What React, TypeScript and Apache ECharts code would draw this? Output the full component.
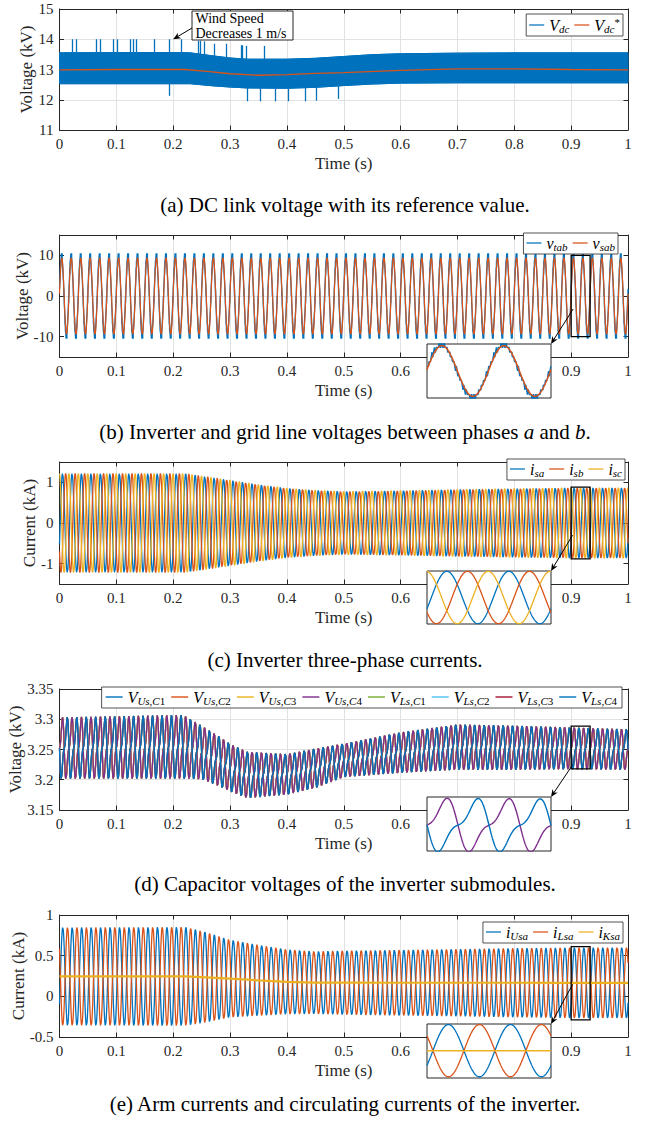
import React, { useEffect, useRef } from 'react';
import * as echarts from 'echarts';

const FONT = '"Liberation Serif", "Times New Roman", Times, serif';
const INK = '#262626';
const GRID_LINE = '#e2e2e2';
const BLUE = '#0072BD';
const ORANGE = '#D95319';
const YELLOW = '#EDB120';
const PURPLE = '#7E2F8E';
const GREEN = '#77AC30';
const CYAN = '#4DBEEE';
const DARKRED = '#A2142F';

// ================= DATA =================
const gridFrequencyHz = 60; // 6 cycles per 0.1 s in every panel

// (a) DC-link voltage: ripple band edges, reference, spikes
const vdcKnotsT = [0, 0.1, 0.2, 0.23, 0.27, 0.3, 0.33, 0.4, 0.45, 0.5, 0.55, 0.6, 0.7, 0.8, 0.9, 1.0];
const vdcUpper = [13.55, 13.56, 13.56, 13.55, 13.45, 13.38, 13.34, 13.34, 13.37, 13.43, 13.49, 13.52, 13.54, 13.55, 13.55, 13.55];
const vdcLower = [12.53, 12.53, 12.53, 12.53, 12.46, 12.42, 12.39, 12.38, 12.41, 12.47, 12.52, 12.55, 12.56, 12.56, 12.56, 12.56];
const vrefKnotsT = [0, 0.1, 0.2, 0.22, 0.26, 0.3, 0.35, 0.4, 0.45, 0.5, 0.6, 0.7, 0.8, 0.9, 1.0];
const vdcRef = [12.99, 13.0, 13.0, 13.0, 12.94, 12.86, 12.81, 12.83, 12.87, 12.9, 12.97, 13.02, 13.02, 13.0, 12.99];
const spikeUpT = [0.023, 0.029, 0.065, 0.071, 0.094, 0.102, 0.124, 0.129, 0.135, 0.167, 0.193, 0.215, 0.244, 0.247, 0.254, 0.272, 0.293, 0.319, 0.322, 0.328, 0.36];
const spikeUpTop = [14, 14, 14, 14, 14, 14, 14, 14, 14, 14, 14, 14, 13.95, 13.95, 13.93, 13.85, 13.85, 13.8, 13.8, 13.78, 13.78];
const spikeDownT = [0.193, 0.331, 0.354, 0.379, 0.403, 0.432, 0.451, 0.49];
const spikeDownBottom = [12.13, 11.95, 11.95, 11.95, 11.95, 11.95, 11.97, 12.03];

// (b) line voltages
const vsabAmplitude = 9.4; // kV
const vsabPhase = 0.06; // rad
const vtabAmplitude = 9.7; // kV
const vtabPhase = 0.08;
const vtabLevelStep = 1.75; // kV between converter levels
const carrierHz = 1500;

// (c) three-phase currents
const isKnotsT = [0, 0.22, 0.25, 0.3, 0.35, 0.4, 0.45, 0.5, 0.6, 0.7, 0.8, 0.9, 1.0];
const isAmplitude = [1.22, 1.22, 1.16, 1.06, 0.95, 0.86, 0.81, 0.78, 0.8, 0.83, 0.85, 0.87, 0.87];
const isPhase = -0.44;

// (d) capacitor voltages
const capKnotsT = [0, 0.22, 0.25, 0.28, 0.3, 0.33, 0.4, 0.45, 0.5, 0.6, 0.7, 0.8, 0.9, 1.0];
const capMean = [3.252, 3.254, 3.245, 3.231, 3.22, 3.208, 3.209, 3.219, 3.232, 3.245, 3.254, 3.253, 3.252, 3.25];
const capHalfRange = [0.051, 0.053, 0.045, 0.042, 0.04, 0.039, 0.034, 0.033, 0.028, 0.034, 0.038, 0.037, 0.035, 0.034];
const capHarmonic = 0.4;
const capPhase = 0.0;

// (e) arm and circulating currents
const armKnotsT = [0, 0.22, 0.25, 0.3, 0.35, 0.4, 0.45, 0.5, 0.6, 0.7, 0.8, 0.9, 1.0];
const armCenter = [0.245, 0.245, 0.236, 0.218, 0.197, 0.178, 0.168, 0.168, 0.167, 0.167, 0.167, 0.166, 0.166];
const armAmplitude = [0.605, 0.61, 0.57, 0.48, 0.437, 0.4, 0.386, 0.395, 0.405, 0.415, 0.427, 0.435, 0.435];
const armPhase = -0.6;

// zoom window and inset y ranges (b, c, d, e)
const zoomWindow = [0.9, 0.9 + 2 / 60];
const insetRanges = [[-10, 10], [-0.88, 0.88], [3.218, 3.2885], [-0.29, 0.61]];
const arrowFrom = [[0.9035, -3.2], [0.9025, -0.3], [0.9025, 3.2246], [0.9025, 0.146]];

// ================= LAYOUT =================
const PLOT_LEFT = 59.5;
const PLOT_RIGHT = 21;
const panels = [
  { top: 9, height: 121, min: 11, max: 15, step: 1, every: 1, name: 'Voltage (kV)', nameX: 26.5, ticks: null as null | number[] },
  { top: 235, height: 122, min: -15, max: 15, step: 5, every: 10, name: 'Voltage (kV)', nameX: 22.5, ticks: [-10, 0, 10] },
  { top: 462, height: 122, min: -1.5, max: 1.5, step: 0.5, every: 1, name: 'Current (kA)', nameX: 29.5, ticks: [-1, 0, 1] },
  { top: 689, height: 121, min: 3.15, max: 3.35, step: 0.05, every: 0.05, name: 'Voltage (kV)', nameX: 15.7, ticks: null },
  { top: 915, height: 122, min: -0.5, max: 1, step: 0.5, every: 0.5, name: 'Current (kA)', nameX: 18, ticks: null },
];
const insets = [
  { left: 427, top: 344, width: 124, height: 54 },
  { left: 427, top: 571, width: 124, height: 53 },
  { left: 427, top: 797, width: 124, height: 54 },
  { left: 427, top: 1024, width: 124, height: 54 },
];
const legendPos = [
  { right: 26, top: 14 },
  { right: 31, top: 233 },
  { right: 24, top: 459 },
  { right: 27, top: 687 },
  { right: 26, top: 922 },
];

// ================= SIGNALS =================
function interp(xs: number[], ys: number[], x: number): number {
  if (x <= xs[0]) return ys[0];
  for (let i = 1; i < xs.length; i++) {
    if (x <= xs[i]) {
      const f = (x - xs[i - 1]) / (xs[i] - xs[i - 1]);
      return ys[i - 1] + f * (ys[i] - ys[i - 1]);
    }
  }
  return ys[ys.length - 1];
}
const phaseAt = (t: number) => 2 * Math.PI * gridFrequencyHz * t;
const sampleTimes = (t0: number, t1: number, n: number) =>
  Array.from({ length: n + 1 }, (_, k) => t0 + ((t1 - t0) * k) / n);

const vsab = (t: number) => vsabAmplitude * Math.sin(phaseAt(t) + vsabPhase);
const carrier = (t: number) => {
  const p = (t * carrierHz) % 1;
  return p < 0.5 ? 2 * p : 2 - 2 * p;
};
const vtab = (t: number) => {
  const r = (vtabAmplitude * Math.sin(phaseAt(t) + vtabPhase)) / vtabLevelStep;
  const lo = Math.floor(r);
  return vtabLevelStep * (lo + (r - lo > carrier(t) ? 1 : 0));
};
const phaseShift = [0, (-2 * Math.PI) / 3, (2 * Math.PI) / 3];
const isig = (t: number, k: number) =>
  interp(isKnotsT, isAmplitude, t) * Math.sin(phaseAt(t) + isPhase + phaseShift[k]);
const capShape = (x: number) => Math.sin(x) - capHarmonic * Math.sin(2 * x);
const capShapePeak = (() => {
  let m = 0;
  for (let i = 0; i < 3600; i++) m = Math.max(m, capShape((i / 3600) * 2 * Math.PI));
  return m;
})();
const capSig = (t: number, arm: number) =>
  interp(capKnotsT, capMean, t) +
  (interp(capKnotsT, capHalfRange, t) / capShapePeak) * capShape(phaseAt(t) + capPhase + arm * Math.PI);
const armSig = (t: number, sign: number) =>
  interp(armKnotsT, armCenter, t) + sign * interp(armKnotsT, armAmplitude, t) * Math.sin(phaseAt(t) + armPhase);

// ================= HELPERS =================
const fmt = (v: number) => String(Math.round(v * 1000) / 1000);
const isMultiple = (v: number, m: number) => Math.abs(v / m - Math.round(v / m)) < 1e-6;
const LINE_ICON = 'path://M0,0 L24,0 L24,2 L0,2 Z';

const legendLabels: Record<string, string> = {
  Vdc: '{m|V}{s|dc}',
  VdcRef: '{m|V}{s|dc}{p|*}',
  vtab: '{m|v}{s|tab}',
  vsab: '{m|v}{s|sab}',
  isa: '{m|i}{s|sa}',
  isb: '{m|i}{s|sb}',
  isc: '{m|i}{s|sc}',
  VUsC1: '{m|V}{s|Us}{n|,}{s|C}{n|1}',
  VUsC2: '{m|V}{s|Us}{n|,}{s|C}{n|2}',
  VUsC3: '{m|V}{s|Us}{n|,}{s|C}{n|3}',
  VUsC4: '{m|V}{s|Us}{n|,}{s|C}{n|4}',
  VLsC1: '{m|V}{s|Ls}{n|,}{s|C}{n|1}',
  VLsC2: '{m|V}{s|Ls}{n|,}{s|C}{n|2}',
  VLsC3: '{m|V}{s|Ls}{n|,}{s|C}{n|3}',
  VLsC4: '{m|V}{s|Ls}{n|,}{s|C}{n|4}',
  iUsa: '{m|i}{s|Usa}',
  iLsa: '{m|i}{s|Lsa}',
  iKsa: '{m|i}{s|Ksa}',
};
const makeRich = (main: number, sub: number) => ({
  m: { fontFamily: FONT, fontStyle: 'italic', fontSize: main, color: '#000', lineHeight: main + 2, verticalAlign: 'middle' },
  s: { fontFamily: FONT, fontStyle: 'italic', fontSize: sub, color: '#000', lineHeight: sub, verticalAlign: 'bottom' },
  n: { fontFamily: FONT, fontSize: sub, color: '#000', lineHeight: sub, verticalAlign: 'bottom' },
  p: { fontFamily: FONT, fontSize: sub, color: '#000', lineHeight: sub, verticalAlign: 'top' },
});

function lineSeries(name: string, axis: number, data: number[][], color: string, width: number, z = 2, extra: any = {}) {
  return {
    name,
    type: 'line',
    xAxisIndex: axis,
    yAxisIndex: axis,
    data,
    symbol: 'none',
    silent: true,
    z,
    lineStyle: { color, width },
    itemStyle: { color },
    emphasis: { disabled: true },
    animation: false,
    ...extra,
  };
}

function buildOption() {
  const grid: any[] = [];
  const xAxis: any[] = [];
  const yAxis: any[] = [];
  panels.forEach((p) => {
    grid.push({ left: PLOT_LEFT, right: PLOT_RIGHT, top: p.top, height: p.height, containLabel: false, outerBoundsMode: 'none' });
  });
  insets.forEach((r) => {
    grid.push({
      left: r.left, top: r.top, width: r.width, height: r.height, show: true,
      backgroundColor: '#fff', borderColor: INK, borderWidth: 1, z: 10, containLabel: false, outerBoundsMode: 'none',
    });
  });
  const tickStyle = { show: true, inside: true, length: 4.5, lineStyle: { color: INK, width: 1 } };
  const lineStyle = { show: true, onZero: false, lineStyle: { color: INK, width: 1 } };
  // bottom x
  panels.forEach((_, i) => {
    xAxis.push({
      type: 'value', gridIndex: i, position: 'bottom', min: 0, max: 1, interval: 0.1,
      axisLine: lineStyle, axisTick: tickStyle,
      axisLabel: { show: true, margin: 6, color: INK, fontFamily: FONT, fontSize: 15, formatter: (v: number) => fmt(v) },
      splitLine: { show: true, lineStyle: { color: GRID_LINE, width: 1 } },
      name: 'Time (s)', nameLocation: 'middle', nameGap: 25,
      nameTextStyle: { color: INK, fontFamily: FONT, fontSize: 17 },
    });
  });
  // top x
  panels.forEach((_, i) => {
    xAxis.push({
      type: 'value', gridIndex: i, position: 'top', min: 0, max: 1, interval: 0.1,
      axisLine: lineStyle, axisTick: tickStyle, axisLabel: { show: false }, splitLine: { show: false },
    });
  });
  insets.forEach((_, k) => {
    xAxis.push({ type: 'value', gridIndex: 5 + k, min: zoomWindow[0], max: zoomWindow[1], show: false, splitLine: { show: false } });
  });
  // left y
  panels.forEach((p, i) => {
    const sparse = p.every !== p.step;
    yAxis.push({
      type: 'value', gridIndex: i, position: 'left', min: p.min, max: p.max, interval: p.step,
      axisLine: lineStyle,
      axisTick: p.ticks ? { ...tickStyle, customValues: p.ticks } : tickStyle,
      axisLabel: {
        show: true, margin: 6, color: INK, fontFamily: FONT, fontSize: 15,
        formatter: (v: number) => (isMultiple(v, p.every) ? fmt(v) : ''),
      },
      splitLine: { show: true, lineStyle: { color: sparse ? ['rgba(0,0,0,0)', GRID_LINE] : GRID_LINE, width: 1 } },
    });
  });
  // right y
  panels.forEach((p, i) => {
    yAxis.push({
      type: 'value', gridIndex: i, position: 'right', min: p.min, max: p.max, interval: p.step,
      axisLine: lineStyle,
      axisTick: p.ticks ? { ...tickStyle, customValues: p.ticks } : tickStyle,
      axisLabel: { show: false }, splitLine: { show: false },
    });
  });
  insets.forEach((_, k) => {
    yAxis.push({ type: 'value', gridIndex: 5 + k, min: insetRanges[k][0], max: insetRanges[k][1], show: false, splitLine: { show: false } });
  });

  const mainT = sampleTimes(0, 1, 2400);
  const pwmT = sampleTimes(0, 1, 6000);
  const insetT = sampleTimes(zoomWindow[0], zoomWindow[1], 400);
  const insetPwmT = sampleTimes(zoomWindow[0], zoomWindow[1], 1600);

  const series: any[] = [];
  // (a) ripple band drawn as a polygon between the two envelopes
  series.push({
    type: 'custom', name: 'VdcBand', xAxisIndex: 0, yAxisIndex: 0, silent: true, z: 2, clip: true,
    animation: false,
    data: vdcKnotsT.map((t, i) => [t, vdcLower[i], vdcUpper[i]]),
    encode: { x: 0, y: [1, 2] },
    renderItem: (params: any, api: any) => {
      if (params.dataIndex !== 0) return null;
      const pts: number[][] = [];
      for (let i = 0; i < vdcKnotsT.length; i++) pts.push(api.coord([vdcKnotsT[i], vdcUpper[i]]));
      for (let i = vdcKnotsT.length - 1; i >= 0; i--) pts.push(api.coord([vdcKnotsT[i], vdcLower[i]]));
      return { type: 'polygon', shape: { points: pts }, style: { fill: BLUE, stroke: BLUE, lineWidth: 1 } };
    },
  });
  series.push(
    lineSeries('VdcLow', 0, vdcKnotsT.map((t, i) => [t, vdcLower[i]]), BLUE, 1, 2, {
      markLine: {
        silent: true, symbol: ['none', 'none'], label: { show: false }, animation: false,
        lineStyle: { color: BLUE, width: 1.3, type: 'solid' }, emphasis: { disabled: true },
        data: [
          ...spikeUpT.map((t, i) => [{ coord: [t, 13.3] }, { coord: [t, spikeUpTop[i]] }]),
          ...spikeDownT.map((t, i) => [{ coord: [t, 12.7] }, { coord: [t, spikeDownBottom[i]] }]),
        ],
      },
    }),
    lineSeries('Vdc', 0, vdcKnotsT.map((t, i) => [t, vdcUpper[i]]), BLUE, 1, 2),
    lineSeries('VdcRef', 0, vrefKnotsT.map((t, i) => [t, vdcRef[i]]), ORANGE, 1.3, 3),
  );
  // (b)
  series.push(
    lineSeries('vtab', 1, pwmT.map((t) => [t, vtab(t)]), BLUE, 1.3, 2),
    lineSeries('vsab', 1, mainT.map((t) => [t, vsab(t)]), ORANGE, 1.2, 3),
    lineSeries('vtab-inset', 10, insetPwmT.map((t) => [t, vtab(t)]), BLUE, 1.3, 12),
    lineSeries('vsab-inset', 10, insetT.map((t) => [t, vsab(t)]), ORANGE, 1.5, 13),
  );
  // (c)
  const isNames = ['isa', 'isb', 'isc'];
  const isColors = [BLUE, ORANGE, YELLOW];
  isNames.forEach((n, k) => series.push(lineSeries(n, 2, mainT.map((t) => [t, isig(t, k)]), isColors[k], 1.3, 2 + k * 0.01)));
  isNames.forEach((n, k) => series.push(lineSeries(n + '-inset', 11, insetT.map((t) => [t, isig(t, k)]), isColors[k], 1.3, 12)));
  // (d)
  const capNames = ['VUsC1', 'VUsC2', 'VUsC3', 'VUsC4', 'VLsC1', 'VLsC2', 'VLsC3', 'VLsC4'];
  const capColors = [BLUE, ORANGE, YELLOW, PURPLE, GREEN, CYAN, DARKRED, BLUE];
  const upperData = mainT.map((t) => [t, capSig(t, 0)]);
  const lowerData = mainT.map((t) => [t, capSig(t, 1)]);
  capNames.forEach((n, k) => series.push(lineSeries(n, 3, k < 4 ? upperData : lowerData, capColors[k], 1.3, 2)));
  series.push(
    lineSeries('VUsC4-inset', 12, insetT.map((t) => [t, capSig(t, 0)]), PURPLE, 1.4, 12),
    lineSeries('VLsC4-inset', 12, insetT.map((t) => [t, capSig(t, 1)]), BLUE, 1.4, 12),
  );
  // (e)
  series.push(
    lineSeries('iUsa', 4, mainT.map((t) => [t, armSig(t, 1)]), BLUE, 1.3, 2),
    lineSeries('iLsa', 4, mainT.map((t) => [t, armSig(t, -1)]), ORANGE, 1.3, 2),
    lineSeries('iKsa', 4, armKnotsT.map((t, i) => [t, armCenter[i]]), YELLOW, 2.2, 3),
    lineSeries('iUsa-inset', 13, insetT.map((t) => [t, armSig(t, 1)]), BLUE, 1.3, 12),
    lineSeries('iLsa-inset', 13, insetT.map((t) => [t, armSig(t, -1)]), ORANGE, 1.3, 12),
    lineSeries('iKsa-inset', 13, [[zoomWindow[0], interp(armKnotsT, armCenter, zoomWindow[0])], [zoomWindow[1], interp(armKnotsT, armCenter, zoomWindow[1])]], YELLOW, 1.5, 13),
  );

  const legendNames = [
    ['Vdc', 'VdcRef'],
    ['vtab', 'vsab'],
    ['isa', 'isb', 'isc'],
    capNames,
    ['iUsa', 'iLsa', 'iKsa'],
  ];
  const legend = legendNames.map((names, i) => ({
    show: true, data: names.map((n) => ({ name: n, icon: LINE_ICON })), selectedMode: false, orient: 'horizontal',
    right: legendPos[i].right, top: legendPos[i].top,
    itemWidth: i === 3 ? 17 : 15, itemHeight: 10, itemGap: i === 3 ? 6 : 5,
    padding: i === 3 ? [2, 5, 2, 4] : [2, 3, 2, 3], borderColor: INK, borderWidth: 0.8, backgroundColor: '#fff', z: 20,
    formatter: (n: string) => legendLabels[n] || n,
    textStyle: { fontFamily: FONT, color: '#000', rich: makeRich(16, 11) },
  }));

  return {
    animation: false,
    backgroundColor: '#fff',
    textStyle: { fontFamily: FONT },
    grid, xAxis, yAxis, series, legend,
  };
}

function arrow(from: number[], to: number[], z: number) {
  const dx = to[0] - from[0];
  const dy = to[1] - from[1];
  const len = Math.hypot(dx, dy) || 1;
  const ux = dx / len;
  const uy = dy / len;
  const hl = 7.5;
  const hw = 3.2;
  const bx = to[0] - ux * hl;
  const by = to[1] - uy * hl;
  return [
    { type: 'line', z, silent: true, shape: { x1: from[0], y1: from[1], x2: to[0] - ux * 4, y2: to[1] - uy * 4 }, style: { stroke: '#000', lineWidth: 1 } },
    {
      type: 'polygon', z, silent: true,
      shape: { points: [[to[0], to[1]], [bx - uy * hw, by + ux * hw], [to[0] - ux * hl * 0.7, to[1] - uy * hl * 0.7], [bx + uy * hw, by - ux * hw]] },
      style: { fill: '#000' },
    },
  ];
}

const captionText = [
  '(a) DC link voltage with its reference value.',
  '(b) Inverter and grid line voltages between phases {i|a} and {i|b}.',
  '(c) Inverter three-phase currents.',
  '(d) Capacitor voltages of the inverter submodules.',
  '(e) Arm currents and circulating currents of the inverter.',
];
const captionY = [205, 432, 660, 884, 1104];
const CAPTION_SIZE = 21;

function buildGraphics(chart: any) {
  const g: any[] = [];
  captionText.forEach((text, i) => {
    g.push({
      type: 'text', x: 345, y: captionY[i], z: 50, silent: true,
      style: {
        text, fontFamily: FONT, fontSize: CAPTION_SIZE, fill: '#000',
        align: 'center', verticalAlign: 'middle', textAlign: 'center', textVerticalAlign: 'middle',
        rich: { i: { fontFamily: FONT, fontSize: CAPTION_SIZE, fontStyle: 'italic', fill: '#000', color: '#000' } },
      },
    });
  });
  // y-axis titles
  panels.forEach((p) => {
    g.push({
      type: 'text', x: p.nameX, y: p.top + p.height / 2, rotation: Math.PI / 2, z: 50, silent: true,
      style: {
        text: p.name, fontFamily: FONT, fontSize: 17, fill: INK,
        align: 'center', verticalAlign: 'middle', textAlign: 'center', textVerticalAlign: 'middle',
      },
    });
  });
  // annotation in (a)
  g.push({ type: 'rect', z: 40, silent: true, shape: { x: 192, y: 11, width: 101, height: 29 }, style: { fill: '#fff', stroke: INK, lineWidth: 1 } });
  g.push({
    type: 'text', x: 195.5, y: 25.5, z: 41, silent: true,
    style: {
      text: 'Wind Speed\nDecreases 1 m/s', fontFamily: FONT, fontSize: 14, lineHeight: 15, fill: '#000',
      align: 'left', verticalAlign: 'middle', textAlign: 'left', textVerticalAlign: 'middle',
    },
  });
  const tip = chart.convertToPixel({ xAxisIndex: 0, yAxisIndex: 0 }, [0.2, 14]);
  g.push(...arrow([192, 28], tip, 41));
  // zoom boxes and arrows
  insets.forEach((_, k) => {
    const pi = k + 1;
    const p0 = chart.convertToPixel({ xAxisIndex: pi, yAxisIndex: pi }, [zoomWindow[0], insetRanges[k][1]]);
    const p1 = chart.convertToPixel({ xAxisIndex: pi, yAxisIndex: pi }, [zoomWindow[1], insetRanges[k][0]]);
    g.push({
      type: 'rect', z: 30, silent: true,
      shape: { x: p0[0], y: p0[1], width: p1[0] - p0[0], height: p1[1] - p0[1] },
      style: { fill: 'none', stroke: '#000', lineWidth: 1.3 },
    });
    const from = chart.convertToPixel({ xAxisIndex: pi, yAxisIndex: pi }, arrowFrom[k]);
    const to = chart.convertToPixel({ xAxisIndex: 10 + k, yAxisIndex: 10 + k }, [zoomWindow[1], insetRanges[k][1]]);
    g.push(...arrow(from, to, 30));
  });
  return g;
}

export default function App() {
  const ref = useRef<HTMLDivElement>(null);
  useEffect(() => {
    if (!ref.current) return;
    const chart = echarts.init(ref.current, null, { renderer: 'svg' });
    chart.setOption(buildOption() as any);
    chart.setOption({ graphic: buildGraphics(chart) } as any);
    return () => chart.dispose();
  }, []);
  return (
    <div
      ref={ref}
      style={{ position: 'absolute', left: 0, top: 0, width: 649, height: 1123, background: '#fff' }}
    />
  );
}
